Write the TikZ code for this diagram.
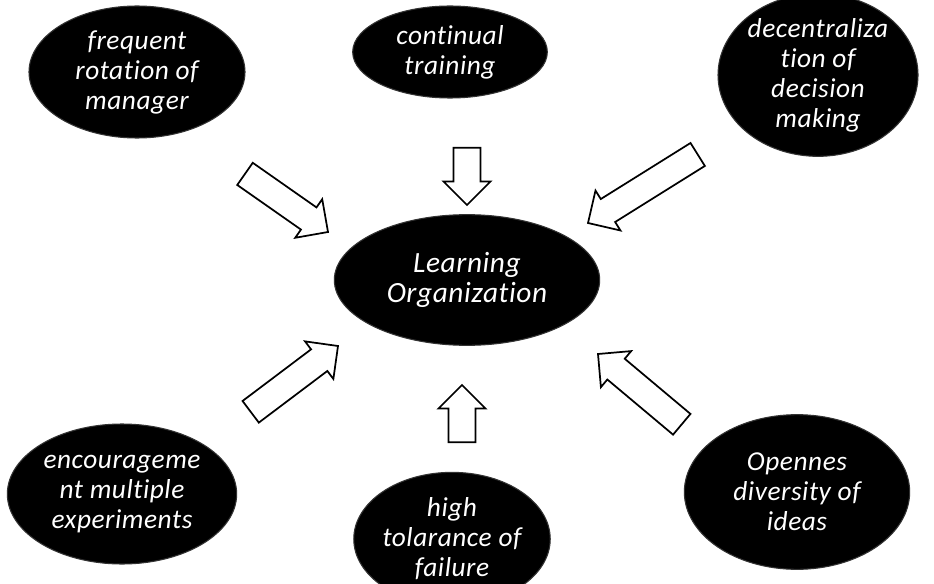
\documentclass[tikz,border=0pt]{standalone}
\usepackage{fontspec}
\setmainfont{Carlito}[Ligatures=NoCommon, LetterSpace=2]
\usepackage{tikz}
\usetikzlibrary{shapes.arrows, shapes.geometric}

\begin{document}
\begin{tikzpicture}[
  x=0.75pt, y=0.75pt,
  blob/.style={ellipse, fill=black, draw=black!80, line width=0.8pt,
               inner sep=0pt, align=center, text=white,
               font=\itshape\fontsize{20.5}{22.5}\selectfont},
  arr/.style={single arrow, draw=black, fill=white, line width=1.3pt,
              inner xsep=0pt, inner ysep=9.5pt, outer sep=0pt,
              single arrow head extend=7.5pt, minimum height=#1,
              anchor=tip}
]
  \useasboundingbox (0,0) rectangle (934,583);
  \clip (0,0) rectangle (934,583);

  % outer ideas
  \node[blob, minimum width=162pt, minimum height=99pt] (rot) at (137,511)
    {frequent\\rotation of\\manager};
  \node[blob, minimum width=146pt, minimum height=69pt] (train) at (450,531)
    {continual\\training};
  \node[blob, minimum width=150pt, minimum height=122pt] (decen) at (818,508)
    {decentraliza\\tion of\\decision\\making};
  \node[blob, minimum width=172pt, minimum height=105pt] (enc) at (122,89)
    {encourageme\\nt multiple\\experiments};
  \node[blob, minimum width=142pt, minimum height=100pt] (tol) at (452,44)
    {high\\tolarance of\\failure};
  \node[blob, minimum width=169pt, minimum height=116pt] (open) at (797,91)
    {Opennes\\diversity of\\ideas};

  % centre
  \node[blob, minimum width=199pt, minimum height=98pt,
        font=\itshape\fontsize{22}{23}\selectfont] (learn) at (467,303)
    {Learning\\Organization};

  % hollow arrows towards the centre
  \node[arr=76pt, rotate=-35] (a1) at (328,351) {};
  \node[arr=43pt, rotate=-90] (a2) at (467,378) {};
  \node[arr=97pt, rotate=212] (a3) at (588,360) {};
  \node[arr=82pt, rotate=37] (a4) at (338,237) {};
  \node[arr=43pt, rotate=90] (a5) at (462,198) {};
  \node[arr=82pt, rotate=140] (a6) at (598,229) {};
\end{tikzpicture}
\end{document}
